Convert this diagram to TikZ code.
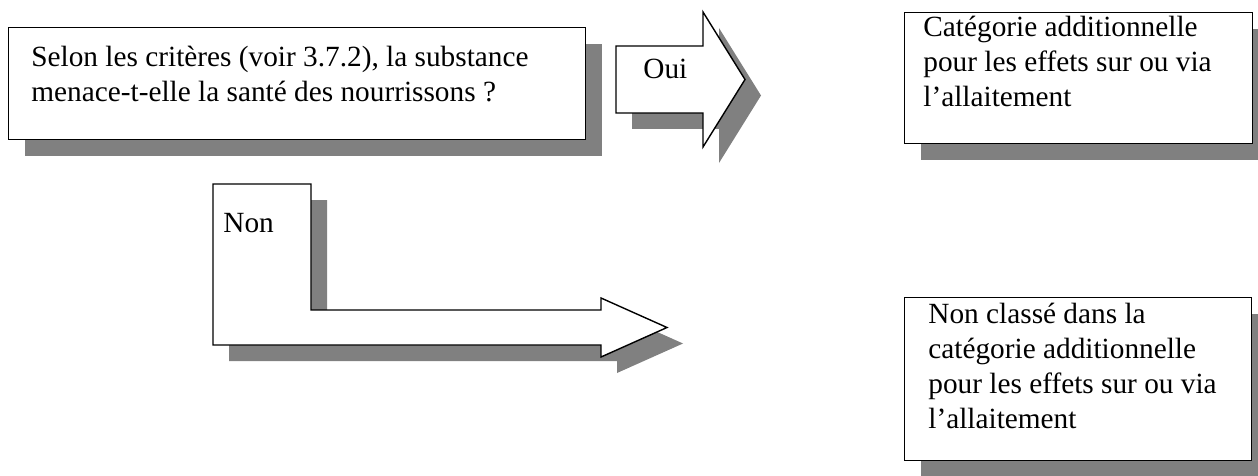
\documentclass[tikz,border=0pt]{standalone}
\usepackage{fontspec}
\setmainfont{Liberation Serif}
\usetikzlibrary{shadows}
\definecolor{mygray}{RGB}{128,128,128}

\begin{document}
\begin{tikzpicture}[x=0.5pt,y=-0.5pt,inner sep=0pt]
\tikzstyle{main}=[draw=black, line width=0.7pt, fill=white, drop shadow={shadow xshift=8pt, shadow yshift=-8pt, fill=mygray, opacity=1}]
\tikzstyle{panel}=[main, rectangle, anchor=north west]
\tikzstyle{txt}=[font=\fontsize{14.65pt}{17.5pt}\selectfont]
\tikzstyle{para}=[txt, anchor=north west, align=left]
\useasboundingbox (0,0) rectangle (1258,476);
% boxes
\node[panel, minimum width=288.5pt, minimum height=56pt] (qst) at (8,27) {};
\node[panel, minimum width=174pt, minimum height=65.5pt] (cat) at (904,12) {};
\node[panel, minimum width=173.5pt, minimum height=81.5pt] (ncl) at (904,297) {};
% block arrows
\draw[main] (616,46) -- (703,46) -- (703,12) -- (745,79.5) -- (703,147) -- (703,113) -- (616,113) -- cycle;
\draw[main] (213,184) -- (311,184) -- (311,310) -- (601,310) -- (601,298) -- (667,327.5)
  -- (601,357) -- (601,345) -- (213,345) -- cycle;
% texts
\node[para] (qsttxt) at (31,41.5) {\strut Selon les critères (voir 3.7.2), la substance\\\strut menace-t-elle la santé des nourrissons ?};
\node[para] (cattxt) at (923,11.5) {\strut Catégorie additionnelle\\\strut pour les effets sur ou via\\\strut l’allaitement};
\node[para] (ncltxt) at (928,298.5) {\strut Non classé dans la\\\strut catégorie additionnelle\\\strut pour les effets sur ou via\\\strut l’allaitement};
\node[txt, anchor=base west] (oui) at (643,79) {Oui};
\node[txt, anchor=base west] (non) at (223,232) {Non};
\end{tikzpicture}
\end{document}
